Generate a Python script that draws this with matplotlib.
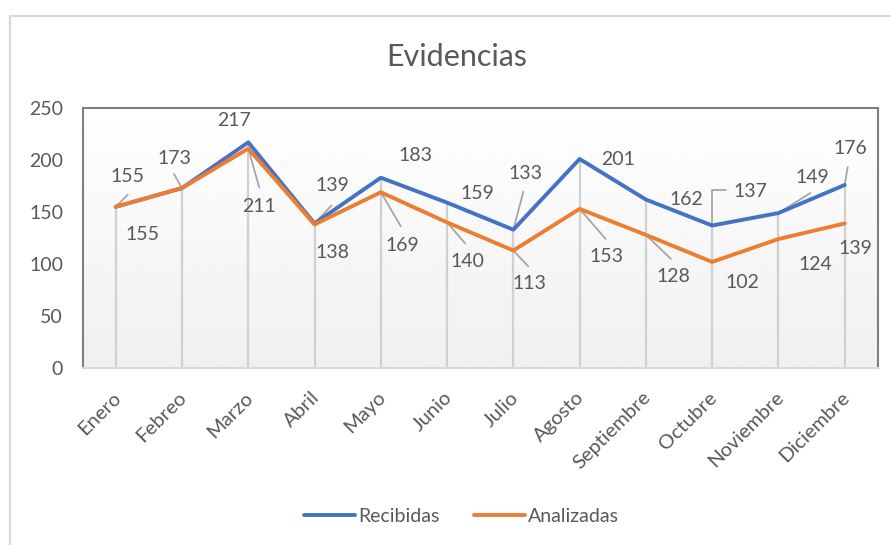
import numpy as np
import matplotlib.pyplot as plt
import matplotlib.transforms as mtransforms
from matplotlib.patches import Rectangle

# datos
meses = ["Enero", "Febreo", "Marzo", "Abril", "Mayo", "Junio", "Julio",
         "Agosto", "Septiembre", "Octubre", "Noviembre", "Diciembre"]
recibidas = [155, 173, 217, 139, 183, 159, 133, 201, 162, 137, 149, 176]
analizadas = [155, 173, 211, 138, 169, 140, 113, 153, 128, 102, 124, 139]

# posiciones de etiquetas (offset en pixeles desde el punto)
off_rec = [(12, 30), (-8, 30), (-14, 22), (18, 38), (35, 22), (30, 9),
           (12, 56), (38, -1), (40, 0), (38, 34), (34, 36), (6, 36)]
off_ana = [(27, -28), None, (11, -58), (18, -28), (22, -53), (20, -39),
           (16, -33), (27, -48), (28, -42), (30, -21), (37, -25), (11, -25)]
# lineas guia
guia_rec = {0: (12, 12), 1: (-8, 14), 3: (17, 18), 6: (10, 38),
            10: (32, 20), 11: (3, 18)}
guia_ana = {2: (11, -39), 4: (20, -34), 5: (18, -21), 6: (15, -16),
            7: (26, -30), 8: (25, -24)}

plt.rcParams['font.family'] = ['Lato', 'DejaVu Sans']
gris = "#595959"
azul = "#4472C4"
naranja = "#ED7D31"

fig = plt.figure(figsize=(8.91, 5.45), dpi=100)
ax = fig.add_axes([0.0927, 0.3248, 0.8925, 0.477])

x = np.arange(len(meses))

# fondo degradado del area de trazado
grad = np.linspace(1.0, 0.94, 256).reshape(-1, 1)
ax.imshow(grad, extent=[0, 1, 0, 1], transform=ax.transAxes, cmap="gray",
          vmin=0, vmax=1, aspect="auto", zorder=0)

# lineas de caida
tope = np.maximum(recibidas, analizadas)
ax.vlines(x, 0, tope, color="#d0d0d0", lw=1.6, zorder=1)

ax.plot(x, recibidas, color=azul, lw=2.8, label="Recibidas", zorder=3,
        solid_capstyle="round")
ax.plot(x, analizadas, color=naranja, lw=2.8, label="Analizadas", zorder=4,
        solid_capstyle="round")

# etiquetas de datos (la de Febrero de Analizadas queda tapada en el original)
for i in range(len(meses)):
    ax.annotate(str(recibidas[i]), (x[i], recibidas[i]), xytext=off_rec[i],
                textcoords="offset pixels", ha="center", va="center",
                fontsize=14, color=gris, zorder=5)
    if off_ana[i] is not None:
        ax.annotate(str(analizadas[i]), (x[i], analizadas[i]), xytext=off_ana[i],
                    textcoords="offset pixels", ha="center", va="center",
                    fontsize=14, color=gris, zorder=5)

for i, d in guia_rec.items():
    ax.annotate("", (x[i], recibidas[i]), xytext=d, textcoords="offset pixels",
                arrowprops=dict(arrowstyle="-", color="#a6a6a6", lw=1.3,
                                shrinkA=0, shrinkB=0), zorder=2)
for i, d in guia_ana.items():
    ax.annotate("", (x[i], analizadas[i]), xytext=d, textcoords="offset pixels",
                arrowprops=dict(arrowstyle="-", color="#a6a6a6", lw=1.3,
                                shrinkA=0, shrinkB=0), zorder=2)
# guia en codo (Octubre)
ax.annotate("", (x[9], recibidas[9]), xytext=(14, 36), textcoords="offset pixels",
            arrowprops=dict(arrowstyle="-", color="#a6a6a6", lw=1.3,
                            shrinkA=0, shrinkB=0,
                            connectionstyle="angle,angleA=0,angleB=90,rad=0"),
            zorder=2)

ax.set_xlim(-0.5, len(meses) - 0.5)
ax.set_ylim(0, 250)
ax.set_yticks(range(0, 251, 50))
ax.set_xticks(x)
ax.set_xticklabels(meses, rotation=45, ha="right", rotation_mode="anchor")
ax.tick_params(axis="y", length=0, labelsize=14, colors=gris, pad=14)
ax.tick_params(axis="x", length=0, labelsize=14.5, colors=gris, pad=15)
desplaza = mtransforms.ScaledTranslation(-4 / 100, 0, fig.dpi_scale_trans)
for lab in ax.get_xticklabels():
    lab.set_transform(lab.get_transform() + desplaza)

for s in ["left", "top", "right"]:
    ax.spines[s].set_color("#7f7f7f")
    ax.spines[s].set_linewidth(1.5)
ax.spines["bottom"].set_color("#d9d9d9")
ax.spines["bottom"].set_linewidth(1.5)

fig.text(0.513, 0.895, "Evidencias", ha="center", va="center",
         fontsize=22, color=gris)

fig.legend(loc="center", bbox_to_anchor=(0.518, 0.053), ncol=2, frameon=False,
           fontsize=14, handlelength=2.6, handletextpad=0.15,
           columnspacing=1.8, labelcolor=gris)

# borde del grafico
fig.add_artist(Rectangle((0.0112, -0.1), 1.0, 1.0706, transform=fig.transFigure,
                         fill=False, edgecolor="#d9d9d9", lw=1.6))

plt.savefig("out.png", dpi=100)
